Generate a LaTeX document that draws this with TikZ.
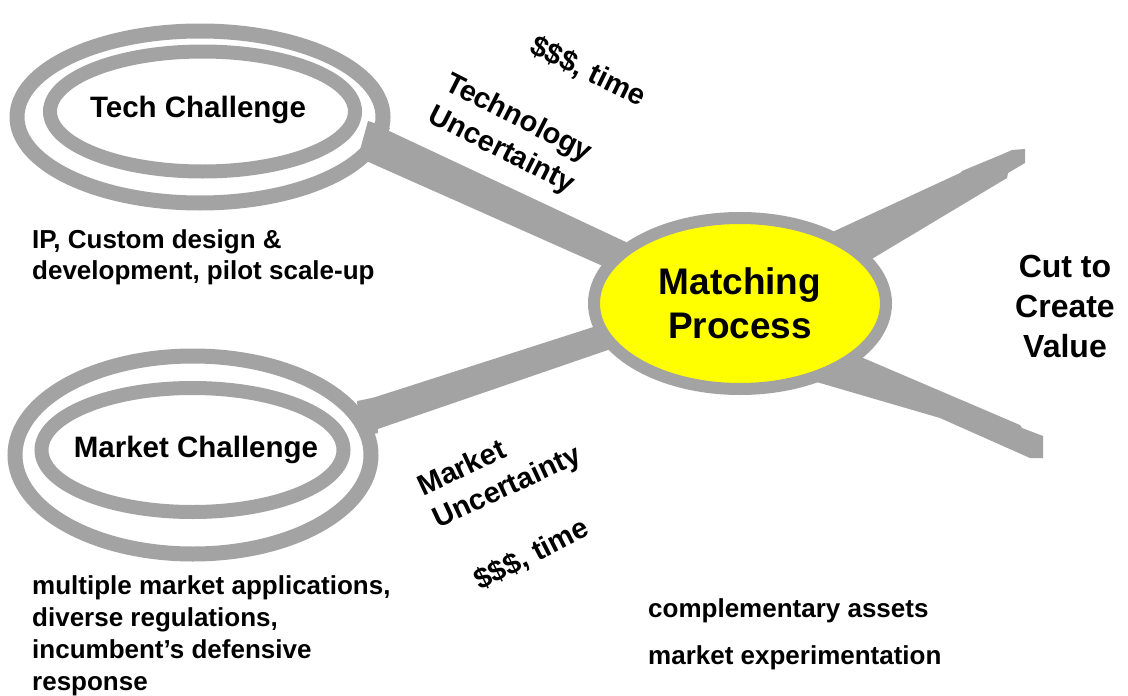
\documentclass[tikz,border=0pt]{standalone}
\usepackage{fontspec}
\setmainfont{Liberation Sans}
\usetikzlibrary{shapes.geometric}
\definecolor{lensgray}{RGB}{163,163,163}
\definecolor{pivotyellow}{RGB}{255,255,0}

\begin{document}
\begin{tikzpicture}[x=1pt,y=-1pt,
    ring/.style={draw=lensgray,line width=14pt},
    metal/.style={fill=lensgray},
    title/.style={font={\fontsize{29.5}{35}\selectfont\bfseries},inner sep=0pt},
    caption/.style={font={\fontsize{26}{31}\selectfont\bfseries},align=left,inner sep=0pt,anchor=west},
    slanted/.style={font={\fontsize{29}{36}\selectfont\bfseries},align=left,inner sep=0pt},
    ]
    \useasboundingbox (0,0) rectangle (1128,696);

    % Handles
    \fill[metal] (370,122) -- (660,258) -- (650,287) -- (364,160) -- cycle;
    \fill[metal] (363,401) -- (640,312) -- (640,339) -- (372,431) -- cycle;

    % Blades
    \fill[metal] (800,247) -- (960,173) -- (962,171) -- (1003,154) -- (1012,150)
        -- (1025,149) -- (1025,163) -- (1008,173) -- (1007,178) -- (820,290) -- cycle;
    \fill[metal] (800,331) -- (1020,425) -- (1022,428) -- (1043,436) -- (1043,458)
        -- (1030,458) -- (940,418) -- (820,383) -- (790,374) -- cycle;

    % Lenses
    \draw[ring,line width=15pt] (200,117) ellipse [x radius=183, y radius=86];
    \draw[ring] (202.5,111.5) ellipse [x radius=152.5, y radius=60];
    \draw[ring,line width=15pt] (193,455) ellipse [x radius=178, y radius=99];
    \draw[ring] (192.5,450) ellipse [x radius=151, y radius=62];

    % Collars
    \fill[metal] (368,121) -- (390,128) -- (374,164) -- (360,150) -- cycle;
    \fill[metal] (357,401) -- (377,397) -- (378,433) -- (360,437) -- cycle;

    % Pivot
    \node[ellipse,draw=lensgray,line width=12pt,fill=pivotyellow,
          minimum width=292pt,minimum height=171pt,inner sep=0pt,
          font={\fontsize{37}{44}\selectfont\bfseries},align=center]
          (match) at (740,303.5) {Matching\\Process};

    \node[title] (tech) at (198,110) {Tech Challenge};
    \node[title] (market) at (196,450) {Market Challenge};
    \node[font={\fontsize{32}{40}\selectfont\bfseries},align=center,inner sep=0pt]
          (value) at (1065,306) {Cut to\\Create\\Value};

    \node[caption] (techtxt) at (32,257) {IP, Custom design \&\\development, pilot scale-up};
    \node[caption,font={\fontsize{26}{32}\selectfont\bfseries}] (markettxt) at (32,636)
          {multiple market applications,\\diverse regulations,\\incumbent’s defensive\\response};
    \node[caption] (assets) at (648,611) {complementary assets};
    \node[caption] (experiment) at (648,658) {market experimentation};

    % Uncertainty labels
    \node[slanted,rotate=-26] (techcost) at (588,72) {\$\$\$, time};
    \node[slanted,rotate=-27] (techunc) at (510,135) {Technology\\Uncertainty};
    \node[slanted,rotate=25] (marketunc) at (500,472) {Market\\Uncertainty};
    \node[slanted,rotate=27] (marketcost) at (532,555) {\$\$\$, time};
\end{tikzpicture}
\end{document}
